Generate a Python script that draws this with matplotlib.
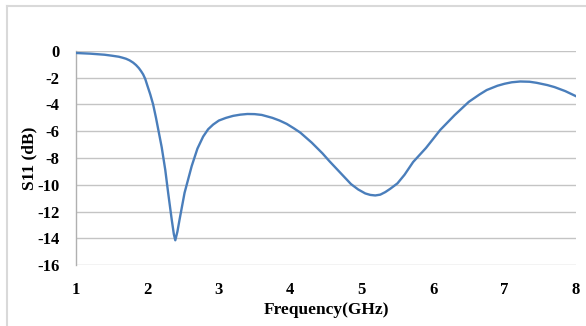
import matplotlib
matplotlib.use("Agg")
import matplotlib.pyplot as plt
from matplotlib.lines import Line2D

# frequency (GHz) and S11 (dB)
freq = [1.0, 1.2, 1.4, 1.5, 1.6, 1.65, 1.7, 1.75, 1.8, 1.84, 1.88, 1.91,
        1.94, 1.97, 2.0, 2.04, 2.08, 2.12, 2.16, 2.2, 2.25, 2.29, 2.34,
        2.37, 2.39, 2.42, 2.45, 2.52, 2.58, 2.62, 2.7, 2.78, 2.85, 2.92,
        3.0, 3.1, 3.2, 3.3, 3.4, 3.5, 3.6, 3.75, 3.85, 3.95, 4.05, 4.14,
        4.3, 4.45, 4.55, 4.7, 4.85, 4.95, 5.05, 5.12, 5.19, 5.26, 5.33,
        5.4, 5.5, 5.6, 5.72, 5.9, 6.1, 6.3, 6.5, 6.65, 6.75, 6.9, 7.0,
        7.1, 7.22, 7.35, 7.45, 7.6, 7.7, 7.85, 8.0]
s11 = [-0.15, -0.2, -0.28, -0.35, -0.43, -0.5, -0.58, -0.7, -0.87, -1.05,
       -1.28, -1.5, -1.75, -2.1, -2.6, -3.25, -4.0, -5.0, -6.1, -7.2,
       -8.9, -10.6, -12.6, -13.7, -14.15, -13.5, -12.6, -10.6, -9.4,
       -8.6, -7.3, -6.4, -5.85, -5.5, -5.2, -5.0, -4.85, -4.76, -4.71,
       -4.72, -4.78, -5.0, -5.2, -5.45, -5.78, -6.1, -6.85, -7.65, -8.25,
       -9.1, -9.95, -10.35, -10.65, -10.76, -10.8, -10.74, -10.55, -10.3,
       -9.9, -9.25, -8.3, -7.25, -5.9, -4.8, -3.8, -3.25, -2.92, -2.6,
       -2.45, -2.34, -2.28, -2.3, -2.38, -2.55, -2.7, -3.0, -3.38]

y_ticks = [0, -2, -4, -6, -8, -10, -12, -14, -16]
x_ticks = [1, 2, 3, 4, 5, 6, 7, 8]

plt.rcParams['font.family'] = ['Liberation Serif', 'DejaVu Serif']
plt.rcParams['font.weight'] = 'bold'
plt.rcParams['axes.unicode_minus'] = False

fig = plt.figure(figsize=(5.86, 3.26), dpi=100)
ax = fig.add_axes([0.1297, 0.1871, 0.8532, 0.6565])

# outer chart frame (only top and left visible)
fig.add_artist(Line2D([7/586, 7/586], [0, 1 - 6/326], color='#d9d9d9', lw=1.5))
fig.add_artist(Line2D([7/586, 1], [1 - 6/326, 1 - 6/326], color='#d9d9d9', lw=1.5))

for yv in y_ticks:
    ax.axhline(yv, color='#c4c4c4', lw=1.0, zorder=1)

ax.plot(freq, s11, color='#4a7ebb', lw=1.7, zorder=3)

ax.set_xlim(1, 8)
ax.set_ylim(-16, 0)
ax.set_xticks(x_ticks)
ax.set_yticks(y_ticks)
ax.tick_params(length=0, labelsize=12)
ax.tick_params(axis='y', pad=12)
ax.tick_params(axis='x', pad=12)

for side in ['top', 'right', 'bottom']:
    ax.spines[side].set_visible(False)
ax.spines['left'].set_color('#b0b0b0')
ax.spines['left'].set_linewidth(1.0)

ax.set_xlabel('Frequency(GHz)', fontsize=12.5, fontweight='bold', labelpad=3)
ax.set_ylabel('S11 (dB)', fontsize=12.5, fontweight='bold', labelpad=0)

fig.savefig('out.png', dpi=100)
